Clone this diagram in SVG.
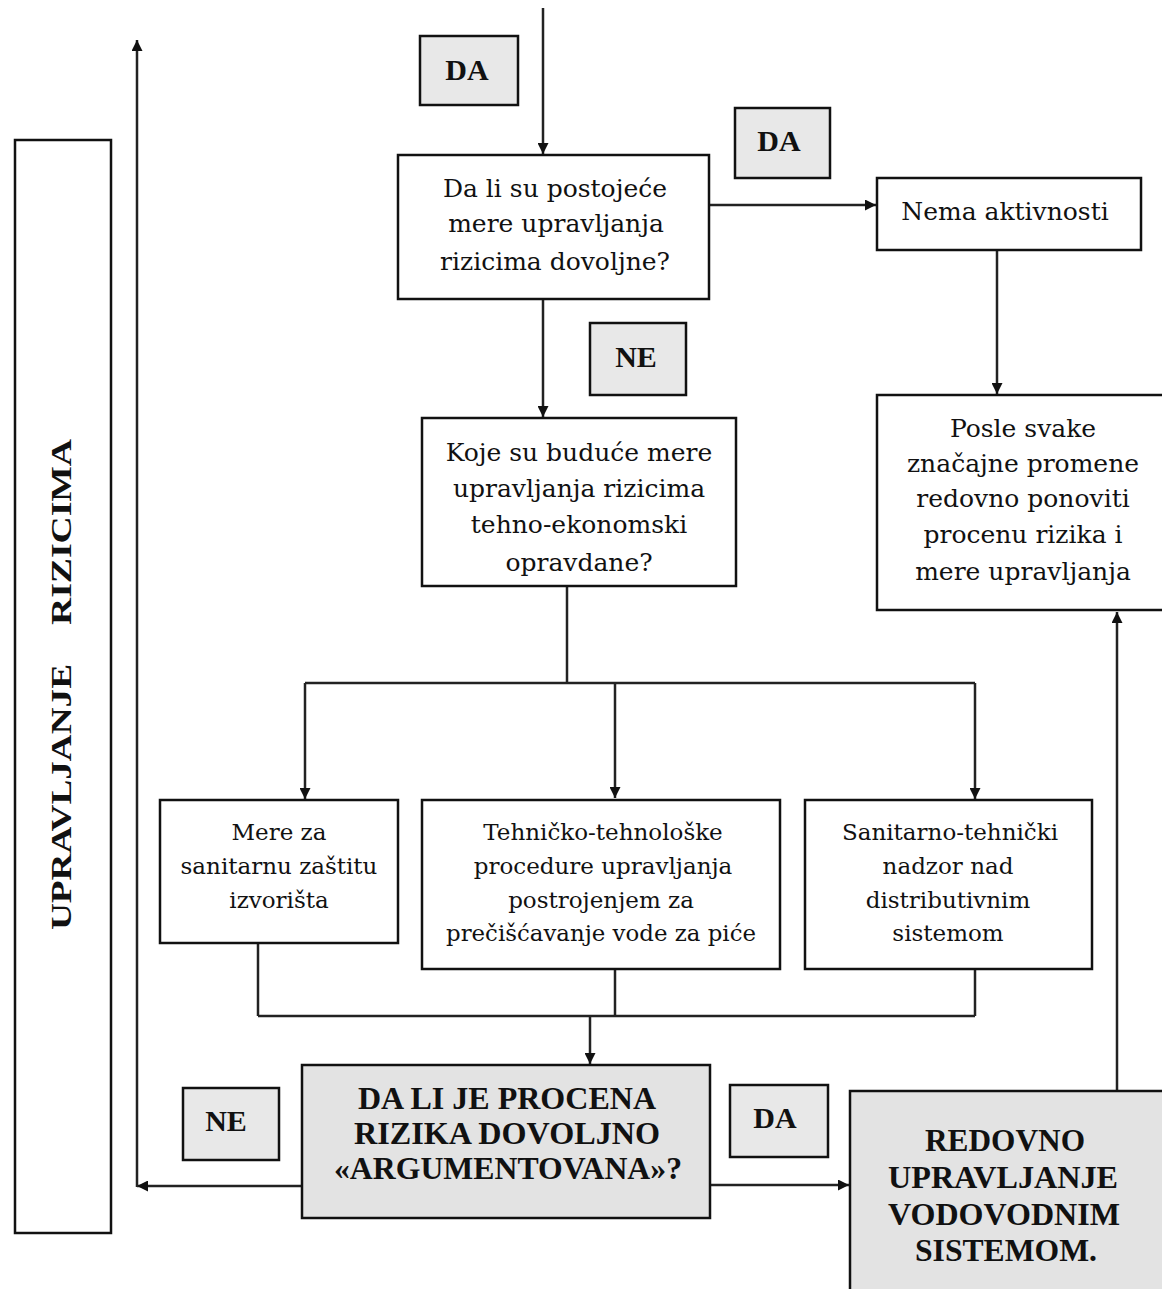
<svg xmlns="http://www.w3.org/2000/svg" width="1162" height="1289" viewBox="0 0 1162 1289">
<defs>
<marker id="ah" viewBox="0 0 10 10" refX="10" refY="5" markerWidth="13" markerHeight="11" orient="auto" markerUnits="userSpaceOnUse">
<path d="M0,0 L10,5 L0,10 z" fill="#111"/>
</marker>
<style>
.box{fill:#fff;stroke:#111;stroke-width:2.5}
.gbox{fill:#e3e3e3;stroke:#111;stroke-width:2.5}
.lbl{fill:#e8e8e8;stroke:#111;stroke-width:2.5}
.t{font-family:"DejaVu Serif","Liberation Serif",serif;font-size:25px;fill:#111;text-anchor:middle}
.s{font-family:"DejaVu Serif","Liberation Serif",serif;font-size:23px;fill:#111;text-anchor:middle}
.b{font-family:"Liberation Serif","DejaVu Serif",serif;font-size:30px;font-weight:bold;fill:#111;text-anchor:middle}
.B{font-family:"Liberation Serif","DejaVu Serif",serif;font-size:32px;font-weight:bold;fill:#111;text-anchor:middle}
.ln{fill:none;stroke:#222;stroke-width:2.5}
.la{fill:none;stroke:#222;stroke-width:2.5;marker-end:url(#ah)}
</style>
</defs>
<rect width="1162" height="1289" fill="#fff"/>
<g id="side">
<rect class="box" x="15" y="140" width="96" height="1093"/>
<text class="b" transform="translate(71,797) rotate(-90)" font-size="40" textLength="266" lengthAdjust="spacingAndGlyphs">UPRAVLJANJE</text>
<text class="b" transform="translate(71,532) rotate(-90)" font-size="40" textLength="186" lengthAdjust="spacingAndGlyphs">RIZICIMA</text>
</g>
<g id="connectors">
<line class="la" x1="543" y1="8" x2="543" y2="154"/>
<line class="la" x1="709" y1="205" x2="876" y2="205"/>
<line class="la" x1="997" y1="250" x2="997" y2="394"/>
<line class="la" x1="543" y1="299" x2="543" y2="417"/>
<polyline class="ln" points="567,586 567,683"/>
<line class="ln" x1="305" y1="683" x2="975" y2="683"/>
<line class="la" x1="305" y1="683" x2="305" y2="799"/>
<line class="la" x1="615" y1="683" x2="615" y2="798"/>
<line class="la" x1="975" y1="683" x2="975" y2="799"/>
<line class="ln" x1="258" y1="943" x2="258" y2="1016"/>
<line class="ln" x1="615" y1="969" x2="615" y2="1016"/>
<line class="ln" x1="975" y1="969" x2="975" y2="1016"/>
<line class="ln" x1="258" y1="1016" x2="975" y2="1016"/>
<line class="la" x1="590" y1="1016" x2="590" y2="1064"/>
<line class="la" x1="302" y1="1186" x2="137" y2="1186"/>
<line class="la" x1="137" y1="1187" x2="137" y2="40"/>
<line class="la" x1="710" y1="1185" x2="849" y2="1185"/>
<line class="la" x1="1117" y1="1100" x2="1117" y2="612"/>
</g>
<g id="lbl-da1"><rect class="lbl" x="420" y="36" width="98" height="69"/><text class="b" x="467" y="80">DA</text></g>
<g id="lbl-da2"><rect class="lbl" x="735" y="108" width="95" height="70"/><text class="b" x="779" y="151">DA</text></g>
<g id="lbl-ne1"><rect class="lbl" x="590" y="323" width="96" height="72"/><text class="b" x="636" y="367">NE</text></g>
<g id="lbl-ne2"><rect class="lbl" x="183" y="1088" width="96" height="72"/><text class="b" x="226" y="1131">NE</text></g>
<g id="lbl-da3"><rect class="lbl" x="730" y="1085" width="98" height="72"/><text class="b" x="775" y="1128">DA</text></g>
<g id="n1"><rect class="box" x="398" y="155" width="311" height="144"/>
<text class="t" x="555" y="197">Da li su postojeće</text>
<text class="t" x="556" y="232">mere upravljanja</text>
<text class="t" x="555" y="270">rizicima dovoljne?</text></g>
<g id="n2"><rect class="box" x="877" y="178" width="264" height="72"/>
<text class="t" x="1005" y="220">Nema aktivnosti</text></g>
<g id="n3"><rect class="box" x="877" y="395" width="290" height="215"/>
<text class="t" x="1023" y="437">Posle svake</text>
<text class="t" x="1023" y="472">značajne promene</text>
<text class="t" x="1023" y="507">redovno ponoviti</text>
<text class="t" x="1023" y="543">procenu rizika i</text>
<text class="t" x="1023" y="580">mere upravljanja</text></g>
<g id="n4"><rect class="box" x="422" y="418" width="314" height="168"/>
<text class="t" x="579" y="461">Koje su buduće mere</text>
<text class="t" x="579" y="497">upravljanja rizicima</text>
<text class="t" x="579" y="533">tehno-ekonomski</text>
<text class="t" x="579" y="571">opravdane?</text></g>
<g id="n5"><rect class="box" x="160" y="800" width="238" height="143"/>
<text class="s" x="279" y="840">Mere za</text>
<text class="s" x="279" y="874">sanitarnu zaštitu</text>
<text class="s" x="279" y="908">izvorišta</text></g>
<g id="n6"><rect class="box" x="422" y="800" width="358" height="169"/>
<text class="s" x="603" y="840">Tehničko-tehnološke</text>
<text class="s" x="603" y="874">procedure upravljanja</text>
<text class="s" x="601" y="908">postrojenjem za</text>
<text class="s" x="601" y="941" textLength="310" lengthAdjust="spacingAndGlyphs">prečišćavanje vode za piće</text></g>
<g id="n7"><rect class="box" x="805" y="800" width="287" height="169"/>
<text class="s" x="950" y="840">Sanitarno-tehnički</text>
<text class="s" x="948" y="874">nadzor nad</text>
<text class="s" x="948" y="908">distributivnim</text>
<text class="s" x="948" y="941">sistemom</text></g>
<g id="n8"><rect class="gbox" x="302" y="1065" width="408" height="153"/>
<text class="B" x="507" y="1109" textLength="298" lengthAdjust="spacingAndGlyphs">DA LI JE PROCENA</text>
<text class="B" x="507" y="1144" textLength="306" lengthAdjust="spacingAndGlyphs">RIZIKA DOVOLJNO</text>
<text class="B" x="508" y="1179" textLength="348" lengthAdjust="spacingAndGlyphs">«ARGUMENTOVANA»?</text></g>
<g id="n9"><rect class="gbox" x="850" y="1091" width="320" height="210"/>
<text class="B" x="1005" y="1151" textLength="160" lengthAdjust="spacingAndGlyphs">REDOVNO</text>
<text class="B" x="1003" y="1188" textLength="230" lengthAdjust="spacingAndGlyphs">UPRAVLJANJE</text>
<text class="B" x="1004" y="1225" textLength="232" lengthAdjust="spacingAndGlyphs">VODOVODNIM</text>
<text class="B" x="1006" y="1261" textLength="182" lengthAdjust="spacingAndGlyphs">SISTEMOM.</text></g>
</svg>
